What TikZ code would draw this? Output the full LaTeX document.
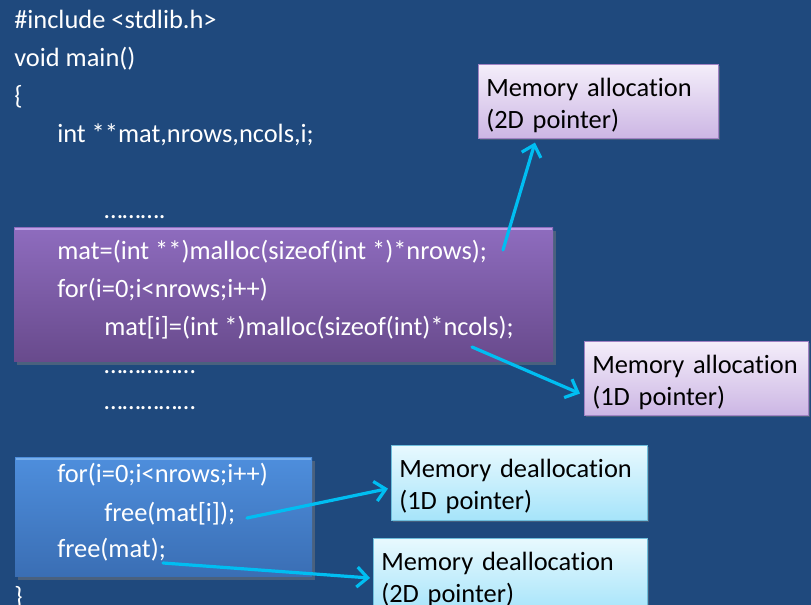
\documentclass[tikz,border=0pt]{standalone}
\usepackage{fontspec}
\setmainfont{Carlito}[Ligatures=NoCommon]
\usetikzlibrary{positioning,calc,arrows.meta,shadows}

\definecolor{slidebg}{RGB}{31,73,125}
\definecolor{purpletop}{RGB}{142,108,190}
\definecolor{purplebot}{RGB}{104,74,140}
\definecolor{purpleedge}{RGB}{190,160,230}
\definecolor{bluetop}{RGB}{78,142,220}
\definecolor{bluebot}{RGB}{58,110,180}
\definecolor{blueedge}{RGB}{120,175,235}
\definecolor{lavtop}{RGB}{244,238,250}
\definecolor{lavbot}{RGB}{204,182,228}
\definecolor{lavedge}{RGB}{160,130,195}
\definecolor{cyantop}{RGB}{232,249,254}
\definecolor{cyanbot}{RGB}{166,228,250}
\definecolor{cyanedge}{RGB}{110,190,220}
\definecolor{arrowcyan}{RGB}{0,190,242}

\begin{document}
\begin{tikzpicture}[x=0.75pt,y=-0.75pt,
  font=\fontsize{19.8}{24}\selectfont,
  code/.style={anchor=base west, inner sep=0pt, text=white},
  note/.style={anchor=north west, draw, align=left, inner xsep=6pt, inner ysep=0pt,
    text=black, drop shadow={opacity=0.4, shadow xshift=1.5pt, shadow yshift=-1.5pt}},
  allocnote/.style={note, draw=lavedge, top color=lavtop, bottom color=lavbot},
  freenote/.style={note, draw=cyanedge, top color=cyantop, bottom color=cyanbot},
  codebox/.style={drop shadow={opacity=0.45, shadow xshift=2pt, shadow yshift=-2pt}},
  pointer/.style={draw=arrowcyan, line width=2.4pt, line cap=round,
    -{Straight Barb[length=8pt,width=15pt,line width=2.4pt]}}
]

% Slide background
\fill[slidebg] (0,0) rectangle (811,605);
\useasboundingbox (0,0) rectangle (811,605);

% Highlight boxes behind the code
\path[codebox, top color=purpletop, bottom color=purplebot] (14,228) rectangle (553,362);
\draw[purpleedge, line width=1.2pt] (15,229) -- (552,229);
\path[codebox, top color=bluetop, bottom color=bluebot] (15,458) rectangle (312,577);
\draw[blueedge, line width=1pt] (16,459) -- (311,459);

% Program text
\node[code] (inc) at (14,29) {\#include <stdlib.h>};
\node[code] (mainfn) at (14,67) {void main()};
\node[code] (lbrace) at (14,105) {\{};
\node[code] (decl) at (57,143) {int **mat,nrows,ncols,i;};
\node[code] (dotsa) at (104,219) {……….};
\node[code] (rowalloc) at (57,260) {mat=(int **)malloc(sizeof(int *)*nrows);};
\node[code] (loopa) at (57,298) {for(i=0;i<nrows;i++)};
\node[code] (colalloc) at (104,336) {mat[i]=(int *)malloc(sizeof(int)*ncols);};
\node[code] (dotsb) at (104,374) {……………};
\node[code] (dotsc) at (104,410) {……………};
\node[code] (loopb) at (57,483) {for(i=0;i<nrows;i++)};
\node[code] (freerow) at (104,522) {free(mat[i]);};
\node[code] (freemat) at (57,558) {free(mat);};
\node[code] (rbrace) at (14,606) {\}};

% Callouts
\node[allocnote, text width=168pt, minimum height=55.5pt] (alloc2d) at (478,64)
  {\rule{0pt}{19.5pt}\mbox{Memory allocation}\\(2D pointer)};
\node[allocnote, text width=156pt, minimum height=55.5pt] (alloc1d) at (584,341)
  {\rule{0pt}{19.5pt}\mbox{Memory allocation}\\(1D pointer)};
\node[freenote, text width=180pt, minimum height=56pt] (dealloc1d) at (391,445)
  {\rule{0pt}{19.5pt}\mbox{Memory deallocation}\\(1D pointer)};
\node[freenote, text width=193.5pt, minimum height=56pt] (dealloc2d) at (373,538)
  {\rule{0pt}{19.5pt}\mbox{Memory deallocation}\\(2D pointer)};

% Pointers from code to callouts
\coordinate (fromrow) at (503,250);
\coordinate (fromcol) at (472,347);
\coordinate (fromfreerow) at (247,518);
\coordinate (fromfreemat) at (163,563);

\draw[pointer] (fromrow) -- ($(alloc2d.south west)+(57,4)$);
\draw[pointer] (fromcol) -- ($(alloc1d.south west)+(-4,-22)$);
\draw[pointer] (fromfreerow) -- ($(dealloc1d.west)+(-3,6)$);
\draw[pointer] (fromfreemat) -- ($(dealloc2d.north west)+(-3,40)$);

\end{tikzpicture}
\end{document}
